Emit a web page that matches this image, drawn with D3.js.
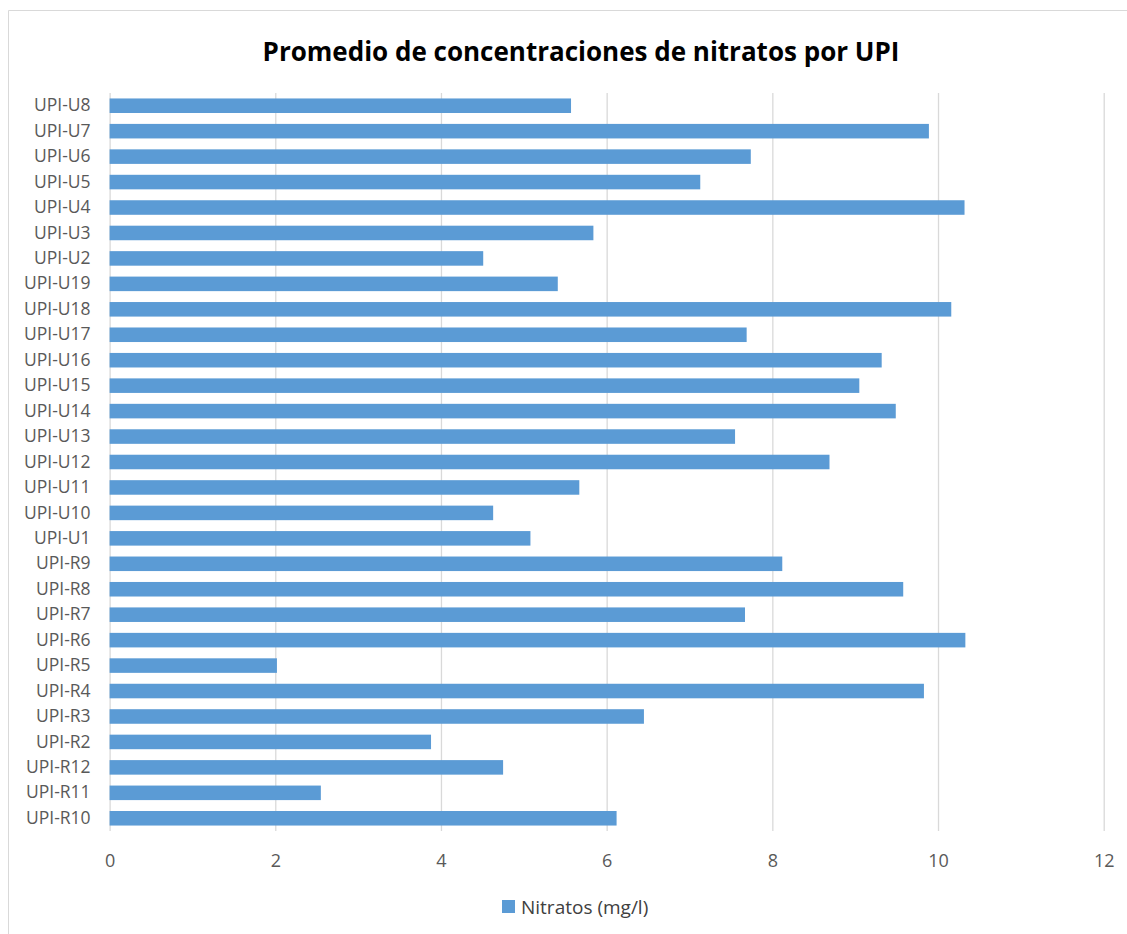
<!DOCTYPE html>
<html>
<head>
<meta charset="utf-8">
<script src="https://cdn.jsdelivr.net/npm/d3@7"></script>
<style>
  html, body { margin: 0; padding: 0; background: #fff; }
  svg { display: block; }
</style>
</head>
<body>
<div id="chart"></div>
<script>
/* nitratos por UPI — horizontal bar chart */
const categories = [
  'UPI-U8', 'UPI-U7', 'UPI-U6', 'UPI-U5', 'UPI-U4', 'UPI-U3', 'UPI-U2', 'UPI-U19',
  'UPI-U18', 'UPI-U17', 'UPI-U16', 'UPI-U15', 'UPI-U14', 'UPI-U13', 'UPI-U12',
  'UPI-U11', 'UPI-U10', 'UPI-U1', 'UPI-R9', 'UPI-R8', 'UPI-R7', 'UPI-R6', 'UPI-R5',
  'UPI-R4', 'UPI-R3', 'UPI-R2', 'UPI-R12', 'UPI-R11', 'UPI-R10',
];
const nitratos = [
  5.57, 9.89, 7.74, 7.13, 10.32, 5.84, 4.51, 5.41,
  10.16, 7.69, 9.32, 9.05, 9.49, 7.55, 8.69,
  5.67, 4.63, 5.08, 8.12, 9.58, 7.67, 10.33, 2.02,
  9.83, 6.45, 3.88, 4.75, 2.55, 6.12,
];
const xTicks = [0, 2, 4, 6, 8, 10, 12];
const title = 'Promedio de concentraciones de nitratos por UPI';
const seriesName = 'Nitratos (mg/l)';

(function () {
  'use strict';

  const W = 1127, H = 934;
  const PLOT  = { left: 109.6, right: 1103.7, top: 93, bottom: 831 };
  const FONT  = "'Open Sans', 'Liberation Sans', sans-serif";
  const BAR   = '#5b9bd5';
  const GRID  = '#d9d9d9';
  const MUTED = '#595959';

  const svg = d3.select('#chart').append('svg').attr('width', W).attr('height', H);
  svg.append('rect').attr('width', W).attr('height', H).attr('fill', '#fff');

  /* chart frame (cut off on right and bottom) */
  svg.append('path')
    .attr('d', `M8.5,${H + 2}V10.5H${W + 2}`)
    .attr('fill', 'none').attr('stroke', GRID).attr('stroke-width', 1);

  const x = d3.scaleLinear().domain([0, 12]).range([PLOT.left, PLOT.right]);
  const y = d3.scaleBand().domain(categories).range([PLOT.top, PLOT.bottom])
    .paddingInner(0.75 / 1.75).paddingOuter(0.375 / 1.75);

  /* gridlines */
  svg.append('g')
    .attr('transform', `translate(0,${PLOT.top})`)
    .call(d3.axisBottom(x).tickValues(xTicks).tickSize(PLOT.bottom - PLOT.top).tickFormat(''))
    .call(ax => ax.select('.domain').remove())
    .call(ax => ax.selectAll('line').attr('stroke', GRID).attr('stroke-width', 1.3));

  /* x tick labels */
  svg.append('g')
    .attr('transform', `translate(0,${PLOT.bottom})`)
    .call(d3.axisBottom(x).tickValues(xTicks).tickSize(0).tickPadding(23).tickFormat(d3.format('d')))
    .call(ax => ax.select('.domain').remove())
    .call(ax => ax.selectAll('text').style('font-family', FONT)
                                     .style('font-size', '18px').attr('fill', MUTED));

  /* y category labels */
  svg.append('g')
    .attr('transform', `translate(${PLOT.left},0)`)
    .call(d3.axisLeft(y).tickSize(0).tickPadding(19))
    .call(ax => ax.select('.domain').remove())
    .call(ax => ax.selectAll('text').style('font-family', FONT)
                                     .style('font-size', '17.5px').attr('fill', MUTED));

  /* bars */
  svg.append('g').selectAll('rect')
    .data(categories.map((c, i) => ({ c, v: nitratos[i] })))
    .join('rect')
    .attr('x', x(0)).attr('y', d => y(d.c))
    .attr('width', d => x(d.v) - x(0)).attr('height', y.bandwidth())
    .attr('fill', BAR);

  /* title */
  svg.append('text')
    .attr('x', 581).attr('y', 52).attr('dy', '0.35em')
    .attr('text-anchor', 'middle')
    .style('font-family', FONT).style('font-size', '26px').style('font-weight', 'bold')
    .attr('fill', '#000')
    .text(title);

  /* legend */
  const lg = svg.append('g').attr('transform', 'translate(502,907)');
  lg.append('rect').attr('x', 0).attr('y', -7).attr('width', 13).attr('height', 13).attr('fill', BAR);
  lg.append('text').attr('x', 19).attr('dy', '0.35em')
    .style('font-family', FONT).style('font-size', '19px').attr('fill', '#404040')
    .text(seriesName);
})();
</script>
</body>
</html>
